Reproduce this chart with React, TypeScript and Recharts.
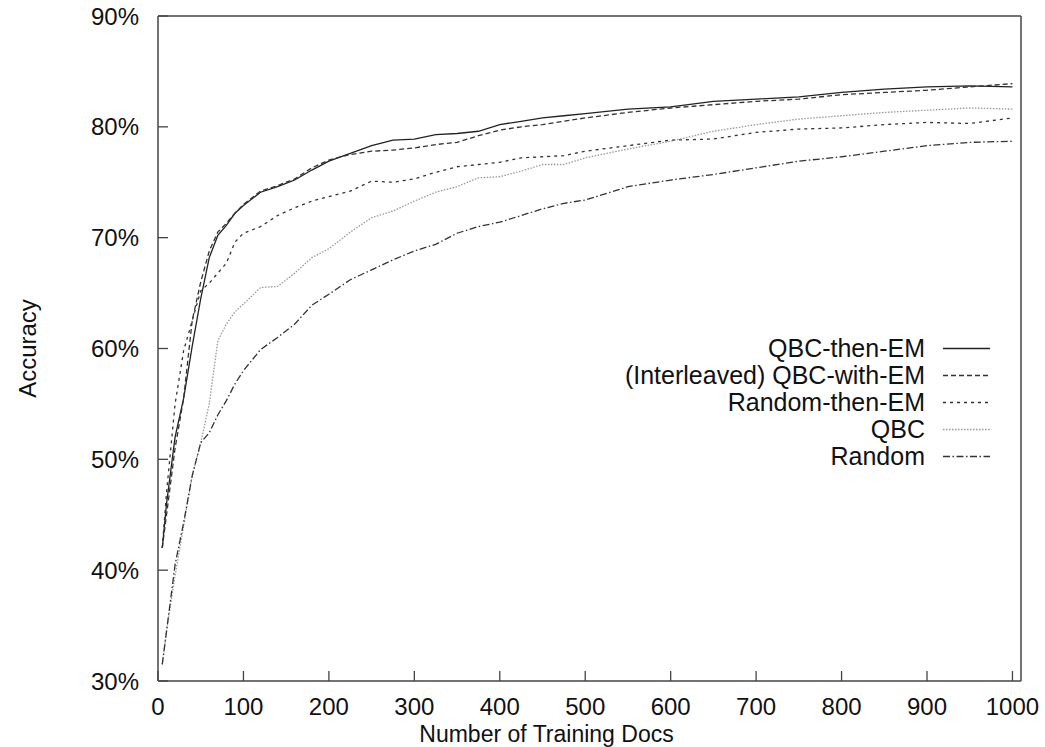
import React from 'react';
import { LineChart, Line, XAxis, YAxis, Legend } from 'recharts';

// number of training documents at each sample point
const docs = [5, 10, 20, 30, 40, 50, 60, 70, 80, 90, 100, 120, 140, 160, 180, 200, 225, 250, 275, 300, 325, 350, 375, 400, 425, 450, 475, 500, 550, 600, 650, 700, 750, 800, 850, 900, 950, 1000];

// accuracy (%) per method
const qbcThenEm = [42.0, 46.0, 52.0, 55.5, 60.2, 64.5, 68.2, 70.2, 71.1, 72.2, 72.9, 74.1, 74.6, 75.2, 76.1, 76.9, 77.6, 78.3, 78.8, 78.9, 79.3, 79.4, 79.6, 80.2, 80.5, 80.8, 81.0, 81.2, 81.6, 81.8, 82.3, 82.5, 82.7, 83.1, 83.4, 83.6, 83.7, 83.6];
const qbcWithEm = [42.0, 45.0, 51.0, 55.5, 62.5, 66.0, 68.8, 70.5, 71.3, 72.2, 73.0, 74.2, 74.7, 75.3, 76.3, 77.0, 77.5, 77.8, 77.9, 78.1, 78.4, 78.6, 79.2, 79.7, 80.0, 80.2, 80.5, 80.8, 81.3, 81.7, 82.0, 82.3, 82.5, 82.9, 83.1, 83.3, 83.6, 83.9];
const randomThenEm = [42.0, 47.0, 55.0, 59.8, 62.5, 65.2, 65.9, 66.8, 67.7, 69.6, 70.4, 71.0, 72.0, 72.7, 73.3, 73.7, 74.2, 75.1, 75.0, 75.3, 75.9, 76.4, 76.6, 76.8, 77.2, 77.3, 77.4, 77.8, 78.3, 78.8, 78.9, 79.5, 79.8, 79.9, 80.2, 80.4, 80.3, 80.8];
const qbc = [31.5, 34.5, 39.5, 44.0, 48.5, 51.5, 55.0, 60.7, 62.2, 63.3, 64.0, 65.5, 65.6, 66.8, 68.2, 69.0, 70.5, 71.8, 72.4, 73.3, 74.1, 74.6, 75.4, 75.5, 76.0, 76.6, 76.6, 77.2, 78.0, 78.7, 79.6, 80.2, 80.7, 81.0, 81.3, 81.5, 81.7, 81.6];
const random = [31.5, 34.5, 40.5, 44.3, 48.5, 51.5, 52.4, 54.0, 55.3, 56.8, 58.0, 59.9, 61.0, 62.2, 63.9, 64.9, 66.2, 67.1, 68.0, 68.8, 69.4, 70.4, 71.0, 71.4, 72.0, 72.6, 73.1, 73.4, 74.6, 75.2, 75.7, 76.3, 76.9, 77.3, 77.8, 78.3, 78.6, 78.7];

const xTicks = [0, 100, 200, 300, 400, 500, 600, 700, 800, 900, 1000];
const yTicks = [30, 40, 50, 60, 70, 80, 90];

const series = [
  { key: 'qbcThenEm', name: 'QBC-then-EM', values: qbcThenEm, stroke: '#222', dash: undefined as string | undefined },
  { key: 'qbcWithEm', name: '(Interleaved) QBC-with-EM', values: qbcWithEm, stroke: '#333', dash: '5 3' },
  { key: 'randomThenEm', name: 'Random-then-EM', values: randomThenEm, stroke: '#333', dash: '3 4' },
  { key: 'qbc', name: 'QBC', values: qbc, stroke: '#999', dash: '1.5 1.5' },
  { key: 'random', name: 'Random', values: random, stroke: '#333', dash: '7 2.5 1.5 2.5' },
];

const data = docs.map((d, i) => {
  const row: Record<string, number> = { docs: d };
  series.forEach((s) => {
    row[s.key] = s.values[i];
  });
  return row;
});

const FONT = '"Liberation Sans", Arial, sans-serif';
const AXIS = '#444';

const renderYLabel = (props: any) => {
  const vb = props.viewBox;
  const cy = vb.y + vb.height / 2;
  return (
    <text x={27} y={cy} transform={`rotate(-90, 27, ${cy})`} textAnchor="middle" dominantBaseline="central" fontSize={24} fill="#111">
      Accuracy
    </text>
  );
};

const renderXLabel = (props: any) => {
  const vb = props.viewBox;
  return (
    <text x={vb.x + vb.width / 2 - 43} y={742} textAnchor="middle" fontSize={23} fill="#111">
      Number of Training Docs
    </text>
  );
};

function LegendBox() {
  return (
    <div style={{ fontFamily: FONT, fontSize: 25, color: '#111' }}>
      {series.map((s) => (
        <div key={s.key} style={{ display: 'flex', alignItems: 'center', height: 27 }}>
          <span style={{ width: 425, textAlign: 'right', whiteSpace: 'nowrap', lineHeight: '27px' }}>{s.name}</span>
          <svg width={65} height={27} style={{ display: 'block' }}>
            <line x1={18} x2={65} y1={13.5} y2={13.5} stroke={s.stroke} strokeWidth={1.3} strokeDasharray={s.dash} />
          </svg>
        </div>
      ))}
    </div>
  );
}

export default function App() {
  return (
    <div style={{ width: 1045, height: 747, background: '#fff', fontFamily: FONT }}>
      <style>{'body{margin:0;background:#fff}'}</style>
      <LineChart width={1045} height={747} data={data} margin={{ top: 15, right: 23, bottom: 0, left: 0 }}>
        <XAxis
          dataKey="docs"
          type="number"
          domain={[0, 1010]}
          ticks={xTicks}
          height={66}
          tickSize={-10}
          tickMargin={27}
          tick={{ fill: '#111', fontSize: 24 }}
          axisLine={{ stroke: AXIS, strokeWidth: 1.5 }}
          tickLine={{ stroke: AXIS, strokeWidth: 1.3 }}
          label={{ content: renderXLabel }}
        />
        <XAxis
          xAxisId="top"
          orientation="top"
          type="number"
          domain={[0, 1010]}
          ticks={xTicks}
          height={1}
          tickSize={-10}
          tick={false}
          axisLine={{ stroke: AXIS, strokeWidth: 1.5 }}
          tickLine={{ stroke: AXIS, strokeWidth: 1.3 }}
        />
        <YAxis
          type="number"
          domain={[30, 90]}
          ticks={yTicks}
          width={158}
          tickSize={-10}
          tickMargin={29}
          tickFormatter={(v) => `${v}%`}
          tick={{ fill: '#111', fontSize: 24 }}
          axisLine={{ stroke: AXIS, strokeWidth: 1.5 }}
          tickLine={{ stroke: AXIS, strokeWidth: 1.3 }}
          label={{ content: renderYLabel }}
        />
        <YAxis
          yAxisId="right"
          orientation="right"
          type="number"
          domain={[30, 90]}
          ticks={yTicks}
          width={1}
          tickSize={-10}
          tick={false}
          axisLine={{ stroke: AXIS, strokeWidth: 1.5 }}
          tickLine={{ stroke: AXIS, strokeWidth: 1.3 }}
        />
        <Legend
          layout="horizontal"
          verticalAlign="middle"
          align="center"
          content={() => <LegendBox />}
          wrapperStyle={{ position: 'absolute', left: 500, top: 335, width: 500 }}
        />
        {series.map((s) => (
          <Line
            key={s.key}
            dataKey={s.key}
            name={s.name}
            stroke={s.stroke}
            strokeWidth={1.3}
            strokeDasharray={s.dash}
            dot={false}
            activeDot={false}
            type="linear"
            isAnimationActive={false}
          />
        ))}
      </LineChart>
    </div>
  );
}
